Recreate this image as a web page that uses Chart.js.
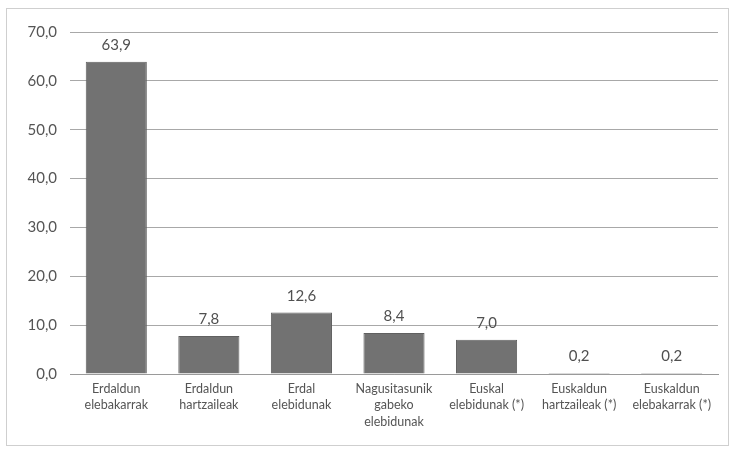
<!DOCTYPE html>
<html>
<head>
<meta charset="utf-8">
<script src="https://cdn.jsdelivr.net/npm/chart.js@4/dist/chart.umd.min.js"></script>
<style>
  html, body { margin: 0; padding: 0; background: #fff; }
  #wrap { position: relative; width: 734px; height: 449px; }
  #frame { position: absolute; left: 6px; top: 8px; width: 723px; height: 438px; border: 1px solid #cfcfcf; box-sizing: border-box; pointer-events: none; }
  canvas { display: block; }
</style>
</head>
<body>
<div id="wrap">
  <canvas id="c" width="734" height="449"></canvas>
  <div id="frame"></div>
</div>
<script>
// Hizkuntza-tipologia: ehunekoak
const categories = [
  ["Erdaldun", "elebakarrak"],
  ["Erdaldun", "hartzaileak"],
  ["Erdal", "elebidunak"],
  ["Nagusitasunik", "gabeko", "elebidunak"],
  ["Euskal", "elebidunak (*)"],
  ["Euskaldun", "hartzaileak (*)"],
  ["Euskaldun", "elebakarrak (*)"]
];
const values = [63.9, 7.8, 12.6, 8.4, 7.0, 0.2, 0.2];
const yTicks = [0, 10, 20, 30, 40, 50, 60, 70];

const fmt = v => v.toFixed(1).replace('.', ',');
const FONT = "Lato, 'Open Sans', 'Liberation Sans', sans-serif";

// Writes each bar's value above it
const valueLabels = {
  id: 'valueLabels',
  afterDatasetsDraw(chart) {
    const ctx = chart.ctx;
    const meta = chart.getDatasetMeta(0);
    ctx.save();
    ctx.font = "15px " + FONT;
    ctx.fillStyle = "#505050";
    ctx.textAlign = "center";
    ctx.textBaseline = "bottom";
    meta.data.forEach((bar, i) => {
      ctx.fillText(fmt(values[i]), bar.x, bar.y - 9);
    });
    ctx.restore();
  }
};

new Chart(document.getElementById('c'), {
  type: 'bar',
  data: {
    labels: categories,
    datasets: [{
      data: values,
      backgroundColor: '#727272',
      borderColor: '#606060',
      borderWidth: 1,
      categoryPercentage: 1.0,
      barPercentage: 0.66
    }]
  },
  options: {
    responsive: false,
    animation: false,
    layout: { padding: { top: 32, right: 16, left: 0, bottom: 0 } },
    plugins: { legend: { display: false }, tooltip: { enabled: false } },
    scales: {
      x: {
        grid: { display: false, drawTicks: false },
        border: { display: true, color: '#9a9a9a', width: 1 },
        ticks: {
          color: '#555',
          font: { family: FONT, size: 12.5, lineHeight: 1.3 },
          padding: 7,
          maxRotation: 0,
          autoSkip: false
        },
        afterFit(scale) { scale.height = 75; }
      },
      y: {
        min: 0,
        max: 70,
        afterBuildTicks(scale) { scale.ticks = yTicks.map(v => ({ value: v })); },
        grid: { color: '#a8a8a8', drawTicks: false, lineWidth: 1 },
        border: { display: false },
        ticks: {
          color: '#555',
          font: { family: FONT, size: 15 },
          padding: 13,
          callback: v => fmt(v)
        },
        afterFit(scale) { scale.width = 70; }
      }
    }
  },
  plugins: [valueLabels]
});
</script>
</body>
</html>
